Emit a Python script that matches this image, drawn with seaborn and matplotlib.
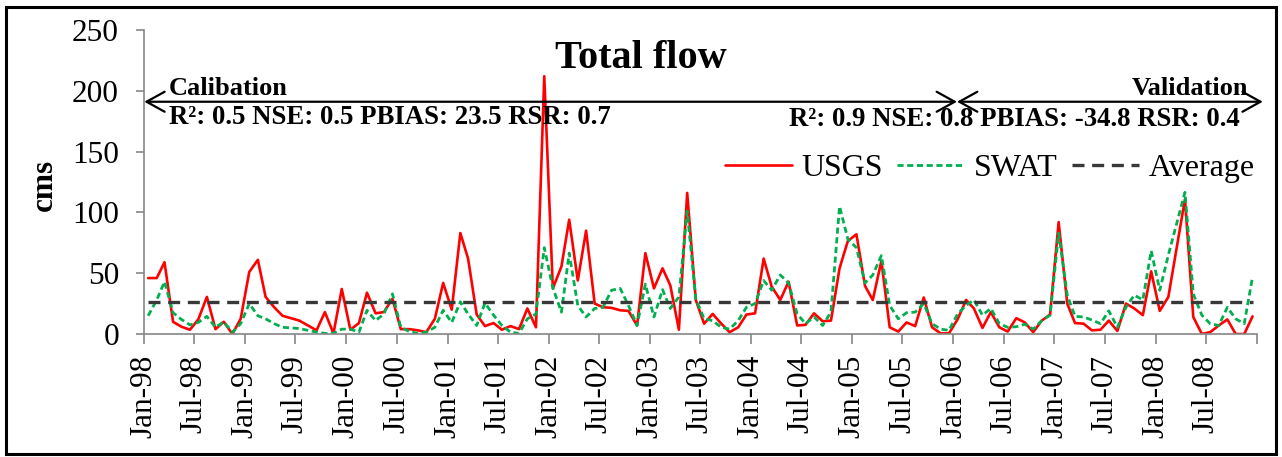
import numpy as np
import pandas as pd
import matplotlib
matplotlib.use("Agg")
import matplotlib.pyplot as plt
from matplotlib.patches import Rectangle
import seaborn as sns

# ---------------- data ----------------
months = pd.date_range("1998-01-01", periods=132, freq="MS")

usgs = [46, 46, 59, 10, 6, 3.5, 12, 30.5, 4, 10, 0, 12.5,
        51, 61, 30.5, 22, 15, 13, 11, 7, 3, 18, 0.5, 37,
        3.5, 9, 34, 17, 18, 29, 4, 4, 3, 1.5, 12.5, 42,
        20, 83, 62, 16, 6.5, 9, 3.5, 6.5, 4, 21, 5.5, 212,
        37.5, 55.5, 94, 44, 85, 25, 22, 21.5, 19.5, 19, 7, 66.5,
        37.5, 54, 40, 3.5, 116, 28, 8.5, 16.5, 8.5, 1.5, 5.5, 16,
        17, 62, 39, 28, 43, 7, 7.5, 17, 10.5, 11, 54, 76.5,
        82, 39.5, 28, 60, 5.5, 2, 9.5, 6.5, 30, 5.5, 0.5, 0.5,
        12, 28, 21, 5, 18, 5.5, 2, 13, 9.5, 1.5, 11, 16,
        92, 25, 9, 8.5, 3, 3.5, 11, 2.5, 25, 21, 15.5, 51.5,
        19, 30.5, 69.5, 111, 14, 0, 1.5, 7, 12, 0, 0, 14.5]

swat = [15, 28, 43, 17.5, 12, 7.5, 9.5, 14.5, 5.5, 10, 1.5, 8.5,
        25, 15, 12.5, 8.5, 5.5, 5, 4.5, 3, 1.5, 0.5, 0.5, 4,
        4, 1.5, 19.5, 11, 16.5, 33, 5.5, 2, 0.5, 1.5, 5.5, 19.5,
        9.5, 26.5, 16.5, 7, 25.5, 15.5, 7, 1.5, 0.5, 12.5, 16.5, 71,
        38, 18, 66.5, 23.5, 14, 21, 22, 36, 37.5, 23.5, 7, 41,
        14, 36.5, 21, 30.5, 101, 29, 12.5, 11, 5.5, 4, 11, 22,
        25, 44, 36, 48.5, 42, 16.5, 8.5, 14, 7, 18, 105, 78,
        71, 42, 48.5, 64.5, 23.5, 12.5, 17.5, 18, 25, 8.5, 4, 3,
        16.5, 23.5, 28, 15.5, 21, 8.5, 5.5, 6, 8, 4, 11, 15.5,
        83, 32, 14.5, 14, 11.5, 8.5, 19, 5.5, 22, 32, 28, 68.5,
        36, 65, 90, 116.5, 33, 15.5, 8.5, 7, 22, 12.5, 8.5, 47]

average_cms = 26.6

tick_dates = pd.date_range("1998-01-01", "2009-01-01", freq="6MS")
tick_labels = ["Jan-98", "Jul-98", "Jan-99", "Jul-99", "Jan-00", "Jul-00",
               "Jan-01", "Jul-01", "Jan-02", "Jul-02", "Jan-03", "Jul-03",
               "Jan-04", "Jul-04", "Jan-05", "Jul-05", "Jan-06", "Jul-06",
               "Jan-07", "Jul-07", "Jan-08", "Jul-08", ""]
y_ticks = [0, 50, 100, 150, 200, 250]

calib_text = "R²: 0.5 NSE: 0.5 PBIAS: 23.5 RSR: 0.7"
valid_text = "R²: 0.9 NSE: 0.8 PBIAS: -34.8 RSR: 0.4"

# ---------------- style ----------------
sns.set_theme(style="white")
plt.rcParams["font.family"] = ["Liberation Serif", "DejaVu Serif"]
plt.rcParams["text.color"] = "black"
plt.rcParams["axes.labelcolor"] = "black"

df = pd.DataFrame({
    "date": months + pd.Timedelta(days=15),
    "USGS": usgs,
    "SWAT": swat,
    "Average": [average_cms] * len(months),
})

fig = plt.figure(figsize=(12.82, 4.57), dpi=100)
ax = fig.add_axes([0.11232, 0.26915, 0.86817, 0.66521])

sns.lineplot(data=df, x="date", y="USGS", ax=ax, color="#FF0000", lw=1.9, label="USGS")
sns.lineplot(data=df, x="date", y="SWAT", ax=ax, color="#00B050", lw=2.0, label="SWAT")
ax.lines[-1].set_dashes([2.2, 1.3])
sns.lineplot(data=df, x="date", y="Average", ax=ax, color="#383838", lw=2.4, label="Average")
ax.lines[-1].set_dashes([3.6, 2.3])

ax.set_xlim(pd.Timestamp("1998-01-01"), pd.Timestamp("2009-01-01"))
ax.set_ylim(0, 250)
ax.set_xticks(tick_dates)
ax.set_xticklabels(tick_labels, rotation=90)
ax.set_yticks(y_ticks)
ax.set_yticklabels([str(v) for v in y_ticks])
ax.set_xlabel("")
ax.set_ylabel("")

for s in ["top", "right"]:
    ax.spines[s].set_visible(False)
for s in ["left", "bottom"]:
    ax.spines[s].set_color("#868686")
    ax.spines[s].set_linewidth(1.2)

ax.tick_params(axis="y", left=True, direction="out", length=6, width=1.2,
               color="#868686", pad=12, labelsize=22.5, labelcolor="black")
ax.tick_params(axis="x", bottom=True, direction="out", length=7, width=1.2,
               color="#868686", pad=8, labelsize=22.5, labelcolor="black")

# legend
leg = ax.legend(loc="center right", bbox_to_anchor=(0.979, 0.632),
                bbox_transform=fig.transFigure, ncol=3, frameon=False,
                fontsize=23, handlelength=2.1, handletextpad=0.3,
                columnspacing=0.45, borderpad=0, borderaxespad=0)
for t in leg.get_texts():
    t.set_color("black")

# calibration / validation arrows
arrow_y = 191
arrow_kw = dict(arrowstyle="<->,head_length=0.65,head_width=0.36", mutation_scale=20,
                lw=1.6, color="black", shrinkA=0, shrinkB=0)
ax.annotate("", xy=(pd.Timestamp("1998-01-02"), arrow_y),
            xytext=(pd.Timestamp("2006-01-14"), arrow_y),
            arrowprops=arrow_kw, annotation_clip=False)
ax.annotate("", xy=(pd.Timestamp("2006-01-14"), arrow_y),
            xytext=(pd.Timestamp("2009-01-22"), arrow_y),
            arrowprops=arrow_kw, annotation_clip=False)

ax.text(0.0225, 0.786, "Calibation", transform=ax.transAxes, fontsize=19,
        fontweight="bold", ha="left", va="baseline", color="black")
ax.text(0.0225, 0.691, calib_text, transform=ax.transAxes, fontsize=19.3,
        fontweight="bold", ha="left", va="baseline", color="black")
ax.text(0.992, 0.786, "Validation", transform=ax.transAxes, fontsize=19,
        fontweight="bold", ha="right", va="baseline", color="black")
ax.text(0.9847, 0.684, valid_text, transform=ax.transAxes, fontsize=19.3,
        fontweight="bold", ha="right", va="baseline", color="black")

fig.text(0.5, 0.851, "Total flow", fontsize=29, fontweight="bold",
         ha="center", va="baseline", color="black")
fig.text(0.035, 0.595, "cms", fontsize=22.5, fontweight="bold",
         rotation=90, ha="center", va="center", color="black")

# outer frame
fig.patches.append(Rectangle((6 / 1282, 3 / 457), 1270 / 1282, 447 / 457,
                             transform=fig.transFigure, fill=False,
                             ec="black", lw=2.2))

fig.savefig("out.png", dpi=100)
